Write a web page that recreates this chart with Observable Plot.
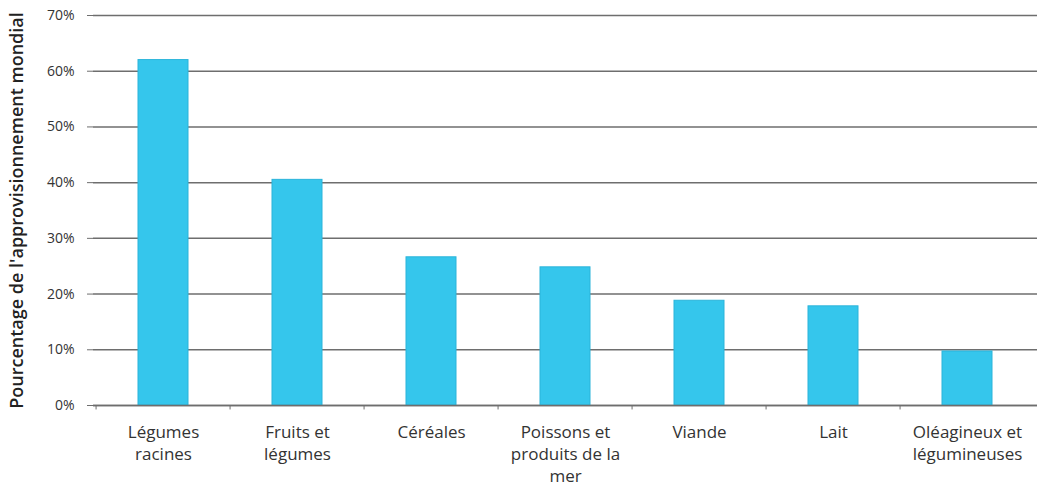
<!DOCTYPE html>
<html>
<head>
<meta charset="utf-8">
<script src="https://cdn.jsdelivr.net/npm/d3@7"></script>
<script src="https://cdn.jsdelivr.net/npm/@observablehq/plot@0.6"></script>
<style>
  html, body { margin: 0; padding: 0; background: #fff; }
  #chart { width: 1037px; height: 490px; overflow: hidden; }
</style>
</head>
<body>
<div id="chart"></div>
<script>
const categories = [
  "Légumes\nracines",
  "Fruits et\nlégumes",
  "Céréales",
  "Poissons et\nproduits de la\nmer",
  "Viande",
  "Lait",
  "Oléagineux et\nlégumineuses"
];
const values = [0.62, 0.405, 0.266, 0.248, 0.188, 0.178, 0.097];
const yTicks = [0, 0.1, 0.2, 0.3, 0.4, 0.5, 0.6, 0.7];
const yLabel = "Pourcentage de l'approvisionnement mondial";

const data = categories.map((c, i) => ({category: c, value: values[i]}));

const width = 1037, height = 490;
const marginLeft = 93, marginRight = 0;
const step = (width - marginLeft - marginRight) / categories.length;

const chart = Plot.plot({
  width, height,
  marginLeft, marginRight,
  marginTop: 15,
  marginBottom: 85,
  style: {fontFamily: "'Open Sans', sans-serif", background: "#fff", overflow: "visible"},
  x: {domain: categories, padding: 0},
  y: {domain: [0, 0.7]},
  marks: [
    Plot.gridY(yTicks, {stroke: "#6e6e6e", strokeOpacity: 1, strokeWidth: 1.5}),
    Plot.barY(data, {
      x: "category", y: "value",
      fill: "#35c6ec", stroke: "#2bb4da", strokeWidth: 1,
      insetLeft: 42, insetRight: 42
    }),
    Plot.ruleY([0], {stroke: "#6e6e6e", strokeWidth: 1.5}),
    Plot.ruleX(categories, {x: d => d, dx: -step / 2, y1: 0, y2: -0.008, stroke: "#6e6e6e", clip: false}),
    Plot.axisY(yTicks, {
      tickFormat: d3.format(".0%"),
      tickSize: 6, tickPadding: 13,
      fontSize: 14, fill: "#333",
      stroke: "#6e6e6e",
      label: null
    }),
    Plot.ruleX([0], {frameAnchor: "left", stroke: "#6e6e6e", strokeWidth: 1.5}),
    Plot.axisX({
      tickSize: 0, tickPadding: 17,
      fontSize: 17, lineHeight: 1.3,
      fill: "#333", label: null
    }),
    Plot.text([yLabel], {
      frameAnchor: "left", dx: -76, rotate: -90,
      fontSize: 18, fontWeight: 600, fill: "#222", textAnchor: "middle"
    })
  ]
});
document.getElementById("chart").appendChild(chart);
</script>
</body>
</html>
